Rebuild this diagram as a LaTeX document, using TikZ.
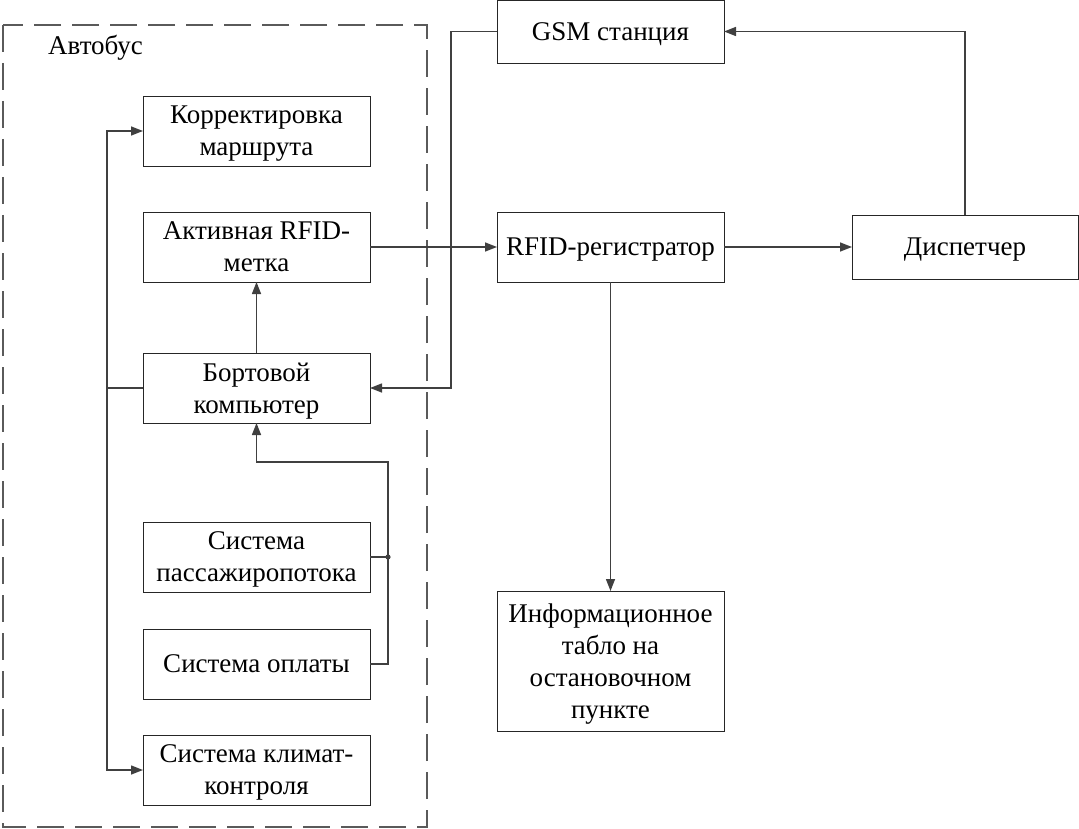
\documentclass[tikz,border=0pt]{standalone}
\usepackage{fontspec}
\setmainfont{Liberation Serif}
\usetikzlibrary{arrows.meta,positioning}
\definecolor{linegray}{HTML}{404040}
\definecolor{framegray}{HTML}{5A5A5A}

\begin{document}
\begin{tikzpicture}[
    font=\fontsize{27}{32}\selectfont,
    box/.style={draw=black!85, line width=0.9pt, align=center, inner sep=2pt, outer sep=0pt, text depth=0pt, minimum width=227pt, minimum height=70pt},
    arrow/.style={-{Triangle[length=12pt,width=9pt]}, line width=1.4pt, draw=linegray},
    link/.style={line width=1.4pt, draw=linegray},
    busframe/.style={draw=framegray, line width=1.3pt, dash pattern=on 27pt off 11pt}
]
\useasboundingbox (0,0) rectangle (1079pt,-829pt);
\draw[busframe] (3pt,-25pt) rectangle (427pt,-827pt);
\node[anchor=west, inner sep=0pt] (buslbl) at (48pt,-48pt) {Автобус};

% bus side
\node[box] (korr) at (256.5pt,-131pt) {Корректировка\\маршрута};
\node[box, below=46pt of korr] (aktiv) {Активная RFID-\\метка};
\node[box, below=71pt of aktiv] (bort) {Бортовой\\компьютер};
\node[box, below=99pt of bort] (pass) {Система\\пассажиропотока};
\node[box, below=37pt of pass] (opl) {Система оплаты};
\node[box, below=36pt of opl] (klim) {Система климат-\\контроля};

% outside
\node[box, right=127pt of aktiv] (reg) {RFID-регистратор};
\node[box, minimum height=63pt, above=149pt of reg] (gsm) {GSM станция};
\node[box, minimum width=226pt, minimum height=64pt, right=128pt of reg] (disp) {Диспетчер};
\node[box, minimum height=140pt, below=309pt of reg] (info) {Информационное\\табло на\\остановочном\\пункте};

\draw[arrow] (bort.west) -- ++(-36pt,0) |- (korr.west);
\draw[arrow] (bort.west) -- ++(-36pt,0) |- (klim.west);
\draw[arrow] (bort.north) -- (aktiv.south);
\draw[link] (pass.east) -- ++(18pt,0) coordinate (jn);
\fill[linegray] (jn) circle (2.6pt);
\coordinate (up) at ([yshift=-39pt]bort.south);
\draw[arrow] (opl.east) -| (up -| jn) -- (up) -- (bort.south);
\draw[arrow] (aktiv.east) -- (reg.west);
\draw[arrow] (gsm.west) -- ++(-46pt,0) |- (bort.east);
\draw[arrow] (reg.east) -- (disp.west);
\draw[arrow] (disp.north) |- (gsm.east);
\draw[arrow] (reg.south) -- (info.north);
\end{tikzpicture}
\end{document}
